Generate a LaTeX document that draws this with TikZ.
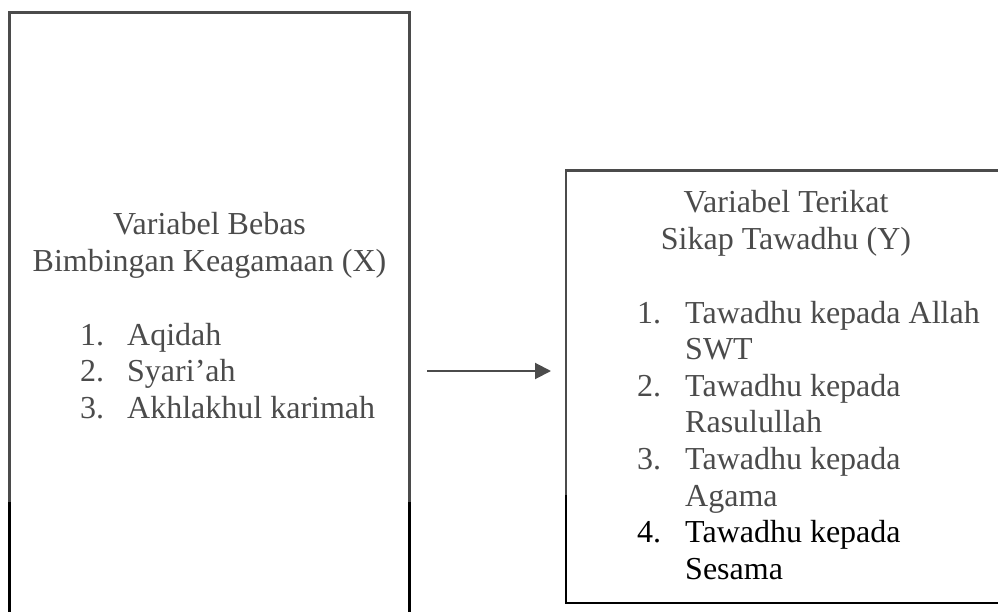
\documentclass[tikz,border=0pt]{standalone}
\usepackage{fontspec}
\setmainfont{Liberation Serif}
\usetikzlibrary{arrows.meta}
\definecolor{ink}{RGB}{75,75,75}
\begin{document}
\begin{tikzpicture}[x=1pt,y=-1pt,
  txt/.style={font=\fontsize{32}{36.6}\selectfont, text=ink, inner sep=0pt, anchor=base},
  lead/.style={txt, anchor=base west},
  dark/.style={text=black},
  frame/.style={draw=ink, line width=2.4pt, inner sep=0pt, outer sep=0pt},
  darkline/.style={draw=black, line width=2.4pt},
  link/.style={draw=ink, line width=2pt, -{Triangle[length=16pt,width=16pt]}}]
\useasboundingbox (0,0) rectangle (998,612);
\clip (0,0) rectangle (998,612);

% boxes
\node[frame, minimum width=400pt, minimum height=647.5pt] (bebas) at (209.5,336.25) {};
\node[frame, minimum width=454pt, minimum height=432.5pt] (terikat) at (793,386.75) {};
\draw[darkline] (bebas.west |- 0,502) -- (bebas.south west);
\draw[darkline] (bebas.east |- 0,502) -- (bebas.south east);
\draw[darkline] (terikat.west |- 0,495) -- (terikat.south west) -- (terikat.south east);

% left text
\node[txt] (xh1) at (209.5,235) {Variabel Bebas};
\node[txt] (xh2) at (209.5,271.6) {Bimbingan Keagamaan (X)};
\node[lead] (xn1) at (80,345) {1.};
\node[lead] (xt1) at (127,345) {Aqidah};
\node[lead] (xn2) at (80,381.6) {2.};
\node[lead] (xt2) at (127,381.6) {Syari’ah};
\node[lead] (xn3) at (80,418.2) {3.};
\node[lead] (xt3) at (127,418.2) {Akhlakhul karimah};

% right text
\node[txt] (yh1) at (786,213) {Variabel Terikat};
\node[txt] (yh2) at (786,249.6) {Sikap Tawadhu (Y)};
\node[lead] (yn1) at (637,323) {1.};
\node[lead] (yt1) at (685,323) {Tawadhu kepada Allah};
\node[lead] (yt1b) at (685,359.6) {SWT};
\node[lead] (yn2) at (637,396.2) {2.};
\node[lead] (yt2) at (685,396.2) {Tawadhu kepada};
\node[lead] (yt2b) at (685,432.8) {Rasulullah};
\node[lead] (yn3) at (637,469.4) {3.};
\node[lead] (yt3) at (685,469.4) {Tawadhu kepada};
\node[lead] (yt3b) at (685,506) {Agama};
\node[lead, dark] (yn4) at (637,542.6) {4.};
\node[lead, dark] (yt4) at (685,542.6) {Tawadhu kepada};
\node[lead, dark] (yt4b) at (685,579.2) {Sesama};

% arrow
\coordinate (arrS) at (427,371);
\coordinate (arrE) at (551,371);
\draw[link] (arrS) -- (arrE);
\end{tikzpicture}
\end{document}
